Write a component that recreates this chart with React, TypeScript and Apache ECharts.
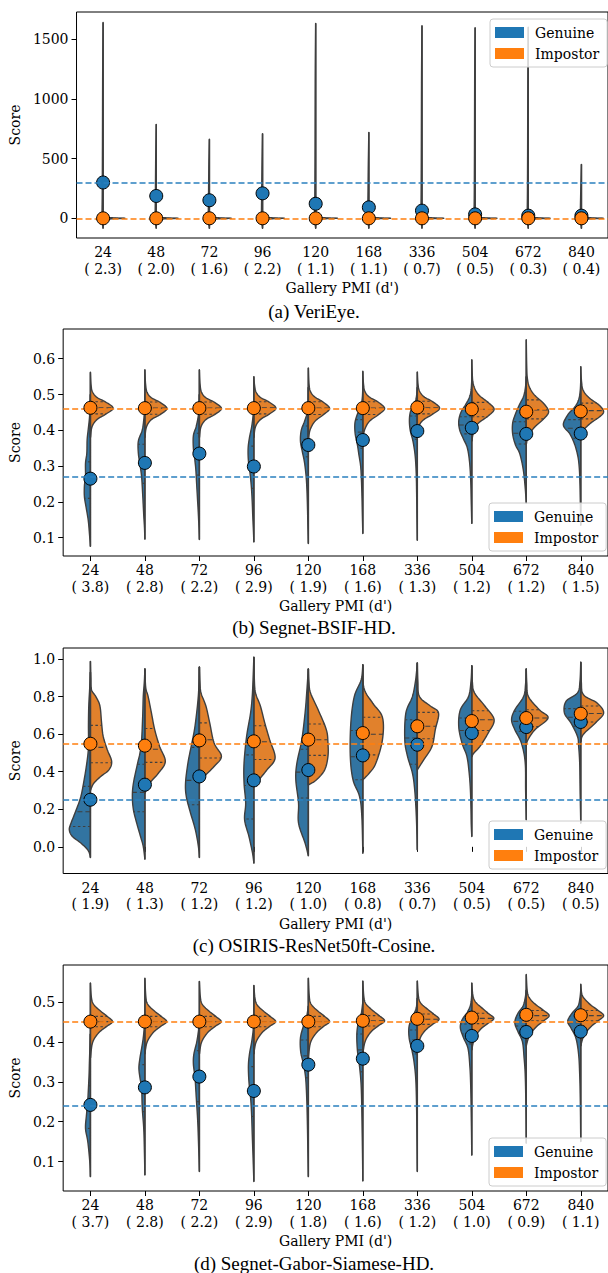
import React, { useEffect, useRef } from 'react';
import * as echarts from 'echarts';

// ---------------- DATA ----------------
const PMI = ['24', '48', '72', '96', '120', '168', '336', '504', '672', '840'];

const DPRIME_A = [2.3, 2.0, 1.6, 2.2, 1.1, 1.1, 0.7, 0.5, 0.3, 0.4];
const DPRIME_B = [3.8, 2.8, 2.2, 2.9, 1.9, 1.6, 1.3, 1.2, 1.2, 1.5];
const DPRIME_C = [1.9, 1.3, 1.2, 1.2, 1.0, 0.8, 0.7, 0.5, 0.5, 0.5];
const DPRIME_D = [3.7, 2.8, 2.2, 2.9, 1.8, 1.6, 1.2, 1.0, 0.9, 1.1];

const YTICKS_A = [0, 500, 1000, 1500];
const YTICKS_B = [0.1, 0.2, 0.3, 0.4, 0.5, 0.6];
const YTICKS_C = [0.0, 0.2, 0.4, 0.6, 0.8, 1.0];
const YTICKS_D = [0.1, 0.2, 0.3, 0.4, 0.5];

const YRANGE_A = [-165, 1728];
const YRANGE_B = [0.049, 0.683];
const YRANGE_C = [-0.142, 1.059];
const YRANGE_D = [0.026, 0.593];

const REF_GEN = [300, 0.265, 0.251, 0.242];
const REF_IMP = [0, 0.463, 0.549, 0.451];

const CAPTIONS = ['(a) VeriEye.', '(b) Segnet-BSIF-HD.', '(c) OSIRIS-ResNet50ft-Cosine.', '(d) Segnet-Gabor-Siamese-HD.'];

const GEN_MEAN_A = [300, 187, 151, 209, 122, 92, 64, 33, 22, 22];
const IMP_MEAN_A = [0, 0, 0, 0, 0, 0, 0, 0, 0, 0];
const GEN_MEAN_B = [0.265, 0.309, 0.335, 0.299, 0.359, 0.373, 0.398, 0.407, 0.39, 0.391];
const IMP_MEAN_B = [0.463, 0.462, 0.462, 0.462, 0.462, 0.462, 0.464, 0.459, 0.452, 0.453];
const GEN_MEAN_C = [0.251, 0.331, 0.375, 0.354, 0.409, 0.487, 0.544, 0.606, 0.638, 0.665];
const IMP_MEAN_C = [0.549, 0.539, 0.567, 0.562, 0.571, 0.606, 0.642, 0.67, 0.686, 0.709];
const GEN_MEAN_D = [0.242, 0.286, 0.313, 0.277, 0.343, 0.358, 0.39, 0.415, 0.425, 0.426];
const IMP_MEAN_D = [0.451, 0.451, 0.451, 0.451, 0.451, 0.453, 0.458, 0.461, 0.468, 0.467];

// violin half profiles: [score, half-width as fraction of category band], bottom -> top
const GEN_VIOLIN_A = [
  [[-84, 0], [-30, 0.014], [40, 0.02], [200, 0.016], [600, 0.012], [1200, 0.008], [1641, 0]],
  [[-84, 0], [-30, 0.014], [40, 0.02], [200, 0.016], [500, 0.01], [787, 0]],
  [[-84, 0], [-30, 0.014], [40, 0.02], [200, 0.016], [450, 0.01], [662, 0]],
  [[-84, 0], [-30, 0.014], [40, 0.02], [200, 0.016], [450, 0.01], [709, 0]],
  [[-84, 0], [-30, 0.014], [40, 0.02], [200, 0.016], [600, 0.012], [1200, 0.008], [1633, 0]],
  [[-84, 0], [-30, 0.014], [40, 0.02], [200, 0.016], [450, 0.01], [720, 0]],
  [[-84, 0], [-30, 0.014], [40, 0.02], [200, 0.016], [600, 0.012], [1200, 0.008], [1613, 0]],
  [[-84, 0], [-30, 0.014], [40, 0.02], [200, 0.016], [600, 0.012], [1200, 0.008], [1596, 0]],
  [[-84, 0], [-30, 0.014], [40, 0.02], [200, 0.016], [600, 0.012], [1200, 0.008], [1600, 0]],
  [[-84, 0], [-30, 0.014], [40, 0.02], [200, 0.014], [452, 0]],
];
const IMP_VIOLIN_A = [
  [[-9, 0], [-3, 0.22], [0, 0.41], [3, 0.22], [8, 0.05], [16, 0]],
  [[-9, 0], [-3, 0.22], [0, 0.41], [3, 0.22], [8, 0.05], [16, 0]],
  [[-9, 0], [-3, 0.22], [0, 0.41], [3, 0.22], [8, 0.05], [16, 0]],
  [[-9, 0], [-3, 0.22], [0, 0.41], [3, 0.22], [8, 0.05], [16, 0]],
  [[-9, 0], [-3, 0.22], [0, 0.41], [3, 0.22], [8, 0.05], [16, 0]],
  [[-9, 0], [-3, 0.22], [0, 0.41], [3, 0.22], [8, 0.05], [16, 0]],
  [[-9, 0], [-3, 0.22], [0, 0.41], [3, 0.22], [8, 0.05], [16, 0]],
  [[-9, 0], [-3, 0.22], [0, 0.41], [3, 0.22], [8, 0.05], [16, 0]],
  [[-9, 0], [-3, 0.22], [0, 0.41], [3, 0.22], [8, 0.05], [16, 0]],
  [[-9, 0], [-3, 0.22], [0, 0.41], [3, 0.22], [8, 0.05], [16, 0]],
];
const GEN_QUART_A = [[], [], [], [], [], [], [], [], [], []];
const IMP_QUART_A = [[0], [0], [0], [0], [0], [0], [0], [0], [0], [0]];

const GEN_VIOLIN_B = [
  [[0.076, 0], [0.112, 0.018], [0.149, 0.04], [0.186, 0.08], [0.215, 0.11], [0.245, 0.11], [0.27, 0.09], [0.308, 0.09], [0.336, 0.066], [0.373, 0.06], [0.4, 0.042], [0.43, 0.02], [0.46, 0.008], [0.5, 0]],
  [[0.096, 0], [0.13, 0.008], [0.16, 0.02], [0.19, 0.03], [0.225, 0.042], [0.27, 0.06], [0.305, 0.09], [0.336, 0.12], [0.37, 0.12], [0.4, 0.05], [0.43, 0.02], [0.46, 0.008], [0.5, 0]],
  [[0.095, 0], [0.13, 0.008], [0.17, 0.02], [0.21, 0.035], [0.25, 0.05], [0.29, 0.065], [0.32, 0.085], [0.35, 0.11], [0.385, 0.11], [0.41, 0.06], [0.44, 0.02], [0.47, 0.006], [0.5, 0]],
  [[0.088, 0], [0.12, 0.008], [0.16, 0.02], [0.2, 0.03], [0.24, 0.045], [0.28, 0.07], [0.315, 0.1], [0.35, 0.105], [0.38, 0.08], [0.41, 0.04], [0.44, 0.015], [0.47, 0.005], [0.5, 0]],
  [[0.084, 0], [0.13, 0.008], [0.18, 0.015], [0.23, 0.025], [0.27, 0.04], [0.31, 0.07], [0.34, 0.11], [0.37, 0.145], [0.4, 0.13], [0.425, 0.07], [0.45, 0.02], [0.48, 0.005], [0.52, 0]],
  [[0.112, 0], [0.16, 0.008], [0.21, 0.015], [0.26, 0.025], [0.3, 0.04], [0.33, 0.07], [0.36, 0.1], [0.39, 0.14], [0.42, 0.145], [0.445, 0.1], [0.465, 0.04], [0.49, 0.01], [0.52, 0]],
  [[0.093, 0], [0.15, 0.006], [0.22, 0.012], [0.28, 0.02], [0.33, 0.04], [0.37, 0.08], [0.4, 0.13], [0.43, 0.145], [0.455, 0.12], [0.475, 0.05], [0.495, 0.015], [0.52, 0]],
  [[0.14, 0], [0.2, 0.01], [0.26, 0.02], [0.31, 0.04], [0.35, 0.08], [0.375, 0.15], [0.4, 0.22], [0.425, 0.24], [0.45, 0.2], [0.47, 0.12], [0.49, 0.05], [0.51, 0.015], [0.54, 0]],
  [[0.196, 0], [0.24, 0.02], [0.29, 0.055], [0.335, 0.12], [0.36, 0.2], [0.39, 0.25], [0.42, 0.25], [0.445, 0.2], [0.47, 0.13], [0.495, 0.05], [0.52, 0.015], [0.55, 0]],
  [[0.135, 0], [0.2, 0.008], [0.25, 0.015], [0.29, 0.025], [0.325, 0.05], [0.36, 0.11], [0.39, 0.2], [0.415, 0.32], [0.445, 0.23], [0.465, 0.11], [0.485, 0.04], [0.51, 0.01], [0.54, 0]],
];
const GEN_QUART_B = [
  [0.21, 0.262, 0.312], [0.252, 0.305, 0.361], [0.275, 0.337, 0.392], [0.238, 0.298, 0.356], [0.326, 0.375, 0.412],
  [0.35, 0.395, 0.43], [0.375, 0.41, 0.44], [0.39, 0.415, 0.438], [0.362, 0.392, 0.424], [0.378, 0.406, 0.43],
];
const IMP_VIOLIN_B = [
  [[0.38, 0], [0.41, 0.03], [0.43, 0.12], [0.445, 0.28], [0.462, 0.417], [0.479, 0.28], [0.492, 0.12], [0.507, 0.04], [0.527, 0.012], [0.562, 0]],
  [[0.38, 0], [0.41, 0.03], [0.43, 0.12], [0.444, 0.28], [0.461, 0.405], [0.478, 0.28], [0.491, 0.12], [0.506, 0.04], [0.53, 0.012], [0.569, 0]],
  [[0.38, 0], [0.41, 0.03], [0.43, 0.12], [0.444, 0.28], [0.461, 0.405], [0.478, 0.28], [0.491, 0.12], [0.506, 0.04], [0.53, 0.012], [0.569, 0]],
  [[0.38, 0], [0.41, 0.03], [0.43, 0.12], [0.445, 0.28], [0.462, 0.405], [0.479, 0.28], [0.492, 0.12], [0.507, 0.04], [0.527, 0.012], [0.55, 0]],
  [[0.37, 0], [0.4, 0.03], [0.425, 0.12], [0.443, 0.27], [0.461, 0.39], [0.479, 0.27], [0.493, 0.12], [0.508, 0.04], [0.53, 0.012], [0.574, 0]],
  [[0.37, 0], [0.4, 0.03], [0.425, 0.12], [0.443, 0.28], [0.461, 0.4], [0.479, 0.28], [0.493, 0.12], [0.508, 0.04], [0.53, 0.012], [0.565, 0]],
  [[0.39, 0], [0.415, 0.04], [0.43, 0.12], [0.445, 0.28], [0.462, 0.41], [0.48, 0.28], [0.494, 0.12], [0.51, 0.04], [0.53, 0.012], [0.563, 0]],
  [[0.37, 0], [0.4, 0.04], [0.42, 0.12], [0.44, 0.3], [0.459, 0.41], [0.478, 0.3], [0.497, 0.14], [0.515, 0.06], [0.535, 0.02], [0.56, 0.008], [0.597, 0]],
  [[0.36, 0], [0.385, 0.04], [0.41, 0.16], [0.432, 0.32], [0.452, 0.41], [0.475, 0.32], [0.497, 0.16], [0.52, 0.06], [0.545, 0.02], [0.58, 0.008], [0.653, 0]],
  [[0.38, 0], [0.4, 0.05], [0.42, 0.18], [0.437, 0.34], [0.452, 0.42], [0.47, 0.34], [0.49, 0.16], [0.51, 0.05], [0.535, 0.015], [0.578, 0]],
];
const IMP_QUART_B = [
  [0.446, 0.463, 0.48], [0.445, 0.462, 0.479], [0.445, 0.462, 0.479], [0.446, 0.463, 0.48], [0.444, 0.462, 0.48],
  [0.444, 0.462, 0.48], [0.446, 0.463, 0.481], [0.438, 0.459, 0.478], [0.432, 0.457, 0.485], [0.432, 0.455, 0.476],
];

const GEN_VIOLIN_C = [
  [[-0.057, 0], [-0.02, 0.04], [0.02, 0.175], [0.055, 0.33], [0.09, 0.387], [0.126, 0.356], [0.197, 0.26], [0.268, 0.175], [0.357, 0.115], [0.446, 0.066], [0.53, 0.036], [0.65, 0.036], [0.75, 0.03], [0.85, 0.012], [0.93, 0]],
  [[-0.066, 0], [0.002, 0.03], [0.055, 0.08], [0.126, 0.15], [0.197, 0.21], [0.268, 0.23], [0.34, 0.21], [0.446, 0.133], [0.5, 0.09], [0.57, 0.06], [0.7, 0.04], [0.8, 0.03], [0.88, 0.01], [0.948, 0]],
  [[-0.057, 0], [0.002, 0.018], [0.09, 0.073], [0.188, 0.17], [0.268, 0.24], [0.34, 0.254], [0.446, 0.21], [0.535, 0.15], [0.624, 0.09], [0.713, 0.05], [0.8, 0.02], [0.88, 0.006], [0.958, 0]],
  [[-0.087, 0], [-0.034, 0.024], [0.055, 0.09], [0.144, 0.17], [0.233, 0.15], [0.34, 0.18], [0.446, 0.18], [0.588, 0.133], [0.713, 0.06], [0.8, 0.03], [0.89, 0.015], [1.01, 0]],
  [[-0.048, 0], [0.02, 0.06], [0.126, 0.18], [0.233, 0.18], [0.357, 0.23], [0.446, 0.21], [0.57, 0.12], [0.713, 0.06], [0.82, 0.03], [0.948, 0]],
  [[-0.034, 0], [0.162, 0.018], [0.268, 0.06], [0.357, 0.18], [0.482, 0.23], [0.66, 0.22], [0.8, 0.157], [0.89, 0.03], [0.97, 0]],
  [[-0.016, 0], [0.162, 0.018], [0.304, 0.048], [0.393, 0.09], [0.482, 0.18], [0.57, 0.23], [0.713, 0.21], [0.8, 0.09], [0.89, 0.03], [0.98, 0]],
  [[0.055, 0], [0.12, 0.01], [0.2, 0.015], [0.3, 0.025], [0.393, 0.048], [0.482, 0.09], [0.553, 0.18], [0.642, 0.24], [0.73, 0.21], [0.8, 0.06], [0.88, 0.015], [0.965, 0]],
  [[0.144, 0], [0.3, 0.012], [0.45, 0.02], [0.553, 0.09], [0.624, 0.21], [0.677, 0.27], [0.73, 0.21], [0.8, 0.05], [0.87, 0.012], [0.948, 0]],
  [[0.126, 0], [0.3, 0.012], [0.45, 0.02], [0.54, 0.04], [0.588, 0.06], [0.66, 0.18], [0.713, 0.3], [0.775, 0.27], [0.82, 0.06], [0.88, 0.015], [0.983, 0]],
];
const GEN_QUART_C = [
  [0.108, 0.187, 0.322], [0.187, 0.29, 0.44], [0.224, 0.354, 0.53], [0.148, 0.327, 0.49], [0.26, 0.398, 0.52],
  [0.357, 0.48, 0.62], [0.44, 0.58, 0.677], [0.544, 0.62, 0.686], [0.615, 0.668, 0.722], [0.642, 0.69, 0.736],
];
const IMP_VIOLIN_C = [
  [[0.3, 0], [0.315, 0.02], [0.34, 0.066], [0.375, 0.19], [0.41, 0.34], [0.455, 0.39], [0.517, 0.31], [0.588, 0.235], [0.66, 0.205], [0.75, 0.175], [0.8, 0.1], [0.837, 0.02], [0.9, 0.008], [0.988, 0]],
  [[0.286, 0], [0.304, 0.03], [0.34, 0.09], [0.393, 0.25], [0.455, 0.375], [0.535, 0.27], [0.624, 0.18], [0.713, 0.12], [0.8, 0.06], [0.85, 0.015], [0.948, 0]],
  [[0.34, 0], [0.35, 0.02], [0.375, 0.09], [0.428, 0.27], [0.482, 0.405], [0.553, 0.27], [0.66, 0.19], [0.75, 0.12], [0.82, 0.03], [0.88, 0.01], [0.958, 0]],
  [[0.33, 0], [0.357, 0.09], [0.41, 0.24], [0.473, 0.39], [0.57, 0.29], [0.66, 0.2], [0.75, 0.12], [0.82, 0.03], [0.9, 0.008], [1.01, 0]],
  [[0.33, 0], [0.357, 0.15], [0.41, 0.3], [0.482, 0.36], [0.553, 0.36], [0.624, 0.33], [0.73, 0.18], [0.82, 0.04], [0.88, 0.01], [0.948, 0]],
  [[0.357, 0], [0.393, 0.12], [0.446, 0.24], [0.57, 0.36], [0.69, 0.36], [0.766, 0.18], [0.846, 0.02], [0.97, 0]],
  [[0.41, 0], [0.428, 0.04], [0.464, 0.12], [0.535, 0.27], [0.624, 0.33], [0.713, 0.39], [0.75, 0.24], [0.8, 0.04], [0.88, 0.01], [0.98, 0]],
  [[0.48, 0], [0.5, 0.04], [0.535, 0.15], [0.606, 0.3], [0.677, 0.41], [0.75, 0.24], [0.82, 0.05], [0.88, 0.01], [0.965, 0]],
  [[0.54, 0], [0.57, 0.03], [0.624, 0.16], [0.686, 0.4], [0.73, 0.24], [0.8, 0.04], [0.87, 0.01], [0.948, 0]],
  [[0.56, 0], [0.6, 0.05], [0.66, 0.27], [0.713, 0.42], [0.766, 0.3], [0.81, 0.05], [0.88, 0.01], [0.983, 0]],
];
const IMP_QUART_C = [
  [0.448, 0.53, 0.647], [0.45, 0.52, 0.63], [0.473, 0.57, 0.66], [0.465, 0.56, 0.645], [0.487, 0.57, 0.654],
  [0.49, 0.6, 0.69], [0.576, 0.642, 0.716], [0.62, 0.677, 0.725], [0.64, 0.686, 0.73], [0.665, 0.71, 0.75],
];

const GEN_VIOLIN_D = [
  [[0.062, 0], [0.1, 0.012], [0.15, 0.048], [0.183, 0.09], [0.217, 0.072], [0.25, 0.05], [0.284, 0.036], [0.32, 0.024], [0.35, 0.018], [0.39, 0.008], [0.42, 0]],
  [[0.066, 0], [0.12, 0.008], [0.18, 0.02], [0.234, 0.048], [0.284, 0.06], [0.31, 0.09], [0.335, 0.11], [0.36, 0.09], [0.384, 0.06], [0.41, 0.03], [0.44, 0.01], [0.47, 0]],
  [[0.075, 0], [0.13, 0.012], [0.2, 0.03], [0.267, 0.06], [0.31, 0.08], [0.345, 0.11], [0.37, 0.1], [0.4, 0.048], [0.43, 0.015], [0.46, 0]],
  [[0.05, 0], [0.1, 0.012], [0.17, 0.03], [0.22, 0.042], [0.26, 0.06], [0.3, 0.09], [0.34, 0.1], [0.37, 0.08], [0.4, 0.04], [0.43, 0.012], [0.46, 0]],
  [[0.062, 0], [0.12, 0.008], [0.2, 0.018], [0.26, 0.03], [0.31, 0.05], [0.345, 0.09], [0.375, 0.14], [0.41, 0.145], [0.44, 0.09], [0.465, 0.03], [0.49, 0]],
  [[0.051, 0], [0.12, 0.006], [0.2, 0.015], [0.27, 0.025], [0.31, 0.04], [0.35, 0.07], [0.38, 0.1], [0.42, 0.11], [0.45, 0.08], [0.47, 0.03], [0.5, 0]],
  [[0.075, 0], [0.15, 0.006], [0.25, 0.015], [0.31, 0.03], [0.35, 0.06], [0.38, 0.1], [0.41, 0.15], [0.44, 0.15], [0.465, 0.08], [0.485, 0.02], [0.51, 0]],
  [[0.116, 0], [0.2, 0.008], [0.29, 0.02], [0.34, 0.036], [0.384, 0.07], [0.41, 0.15], [0.435, 0.21], [0.455, 0.18], [0.475, 0.08], [0.495, 0.02], [0.52, 0]],
  [[0.146, 0], [0.25, 0.008], [0.32, 0.02], [0.36, 0.04], [0.4, 0.07], [0.425, 0.15], [0.448, 0.21], [0.47, 0.16], [0.49, 0.06], [0.51, 0.02], [0.53, 0]],
  [[0.15, 0], [0.25, 0.008], [0.32, 0.02], [0.37, 0.04], [0.41, 0.09], [0.435, 0.18], [0.452, 0.24], [0.472, 0.16], [0.49, 0.05], [0.51, 0.015], [0.53, 0]],
];
const GEN_QUART_D = [
  [0.183, 0.236, 0.29], [0.225, 0.285, 0.343], [0.25, 0.31, 0.378], [0.213, 0.275, 0.338], [0.31, 0.365, 0.405],
  [0.325, 0.38, 0.42], [0.37, 0.405, 0.43], [0.395, 0.42, 0.445], [0.41, 0.44, 0.46], [0.425, 0.448, 0.465],
];
const IMP_VIOLIN_D = [
  [[0.36, 0], [0.393, 0.03], [0.41, 0.08], [0.426, 0.175], [0.439, 0.3], [0.451, 0.405], [0.464, 0.31], [0.477, 0.19], [0.493, 0.066], [0.51, 0.02], [0.548, 0]],
  [[0.37, 0], [0.395, 0.03], [0.41, 0.08], [0.426, 0.17], [0.439, 0.29], [0.451, 0.4], [0.464, 0.3], [0.477, 0.18], [0.493, 0.06], [0.51, 0.02], [0.56, 0]],
  [[0.37, 0], [0.395, 0.03], [0.41, 0.08], [0.426, 0.17], [0.439, 0.29], [0.451, 0.4], [0.464, 0.3], [0.477, 0.18], [0.493, 0.06], [0.51, 0.02], [0.552, 0]],
  [[0.37, 0], [0.395, 0.03], [0.41, 0.08], [0.426, 0.17], [0.439, 0.29], [0.451, 0.4], [0.464, 0.3], [0.477, 0.18], [0.493, 0.06], [0.51, 0.02], [0.542, 0]],
  [[0.36, 0], [0.393, 0.03], [0.41, 0.08], [0.426, 0.17], [0.439, 0.28], [0.451, 0.39], [0.464, 0.3], [0.477, 0.18], [0.493, 0.06], [0.51, 0.02], [0.56, 0]],
  [[0.37, 0], [0.395, 0.03], [0.412, 0.08], [0.428, 0.17], [0.441, 0.29], [0.453, 0.4], [0.466, 0.3], [0.479, 0.18], [0.495, 0.06], [0.512, 0.02], [0.553, 0]],
  [[0.38, 0], [0.4, 0.03], [0.417, 0.08], [0.432, 0.17], [0.445, 0.29], [0.457, 0.4], [0.47, 0.3], [0.483, 0.18], [0.498, 0.06], [0.515, 0.02], [0.553, 0]],
  [[0.38, 0], [0.4, 0.03], [0.417, 0.08], [0.433, 0.17], [0.446, 0.29], [0.459, 0.405], [0.472, 0.3], [0.486, 0.18], [0.5, 0.07], [0.517, 0.02], [0.548, 0]],
  [[0.39, 0], [0.41, 0.04], [0.425, 0.1], [0.44, 0.2], [0.453, 0.32], [0.466, 0.42], [0.479, 0.32], [0.493, 0.18], [0.508, 0.07], [0.525, 0.02], [0.569, 0]],
  [[0.39, 0], [0.41, 0.04], [0.425, 0.1], [0.44, 0.2], [0.453, 0.32], [0.466, 0.42], [0.479, 0.32], [0.493, 0.18], [0.508, 0.07], [0.52, 0.02], [0.545, 0]],
];
const IMP_QUART_D = [
  [0.438, 0.451, 0.464], [0.438, 0.451, 0.464], [0.438, 0.451, 0.464], [0.438, 0.451, 0.464], [0.438, 0.451, 0.464],
  [0.44, 0.453, 0.466], [0.444, 0.457, 0.47], [0.446, 0.459, 0.472], [0.453, 0.466, 0.479], [0.453, 0.466, 0.479],
];

// ---------------- STYLE ----------------
const BLUE = '#1f77b4';
const ORANGE = '#ff7f0e';
const BLUE_FILL = '#3274a1';
const ORANGE_FILL = '#e1812c';
const BLUE_REF = '#2a80bf';
const EDGE = '#3f3f3f';
const FONT = 'DejaVu Serif';

const GRIDS = [
  { left: 76, top: 12, width: 538, height: 226 },
  { left: 62, top: 329, width: 551.5, height: 227 },
  { left: 62, top: 648, width: 551.5, height: 225.5 },
  { left: 62, top: 965, width: 551.5, height: 226 },
];
const LEGEND_POS = [
  { left: 490, top: 19 },
  { left: 489, top: 503 },
  { left: 489, top: 821 },
  { left: 489, top: 1138 },
];
const CAPTION_Y = [311.5, 627, 945, 1263];
const YNAME_GAP = [44, 31, 31, 31];

const PANELS = [
  { d: DPRIME_A, ticks: YTICKS_A, range: YRANGE_A, genMean: GEN_MEAN_A, impMean: IMP_MEAN_A, genV: GEN_VIOLIN_A, impV: IMP_VIOLIN_A, genQ: GEN_QUART_A, impQ: IMP_QUART_A, int: true },
  { d: DPRIME_B, ticks: YTICKS_B, range: YRANGE_B, genMean: GEN_MEAN_B, impMean: IMP_MEAN_B, genV: GEN_VIOLIN_B, impV: IMP_VIOLIN_B, genQ: GEN_QUART_B, impQ: IMP_QUART_B, int: false },
  { d: DPRIME_C, ticks: YTICKS_C, range: YRANGE_C, genMean: GEN_MEAN_C, impMean: IMP_MEAN_C, genV: GEN_VIOLIN_C, impV: IMP_VIOLIN_C, genQ: GEN_QUART_C, impQ: IMP_QUART_C, int: false },
  { d: DPRIME_D, ticks: YTICKS_D, range: YRANGE_D, genMean: GEN_MEAN_D, impMean: IMP_MEAN_D, genV: GEN_VIOLIN_D, impV: IMP_VIOLIN_D, genQ: GEN_QUART_D, impQ: IMP_QUART_D, int: false },
];

// Catmull-Rom rendering of the outline through the read knots (pixel space)
function smoothOutline(pts: number[][], seg = 8): number[][] {
  const out: number[][] = [];
  const n = pts.length;
  for (let i = 0; i < n - 1; i++) {
    const p0 = pts[Math.max(i - 1, 0)];
    const p1 = pts[i];
    const p2 = pts[i + 1];
    const p3 = pts[Math.min(i + 2, n - 1)];
    for (let t = 0; t < seg; t++) {
      const s = t / seg;
      const s2 = s * s;
      const s3 = s2 * s;
      const f = (a: number, b: number, c: number, d: number) =>
        0.5 * (2 * b + (-a + c) * s + (2 * a - 5 * b + 4 * c - d) * s2 + (-a + 3 * b - 3 * c + d) * s3);
      out.push([f(p0[0], p1[0], p2[0], p3[0]), f(p0[1], p1[1], p2[1], p3[1])]);
    }
  }
  out.push(pts[n - 1]);
  return out;
}

function edgeAt(poly: number[][], y: number, cx: number): number {
  let best = cx;
  for (let j = 0; j < poly.length - 1; j++) {
    const a = poly[j];
    const b = poly[j + 1];
    if ((a[1] - y) * (b[1] - y) <= 0 && a[1] !== b[1]) {
      const t = (y - a[1]) / (b[1] - a[1]);
      const x = a[0] + t * (b[0] - a[0]);
      if (Math.abs(x - cx) > Math.abs(best - cx)) best = x;
    }
  }
  return best;
}

function violinSeries(name: string, color: string, fill: string, side: number, profiles: number[][][], quarts: number[][], gi: number) {
  return {
    type: 'custom',
    name,
    xAxisIndex: gi,
    yAxisIndex: gi,
    z: 2,
    clip: false,
    itemStyle: { color },
    encode: { x: 0, y: 1 },
    data: profiles.map((p, i) => [i, p[0][0]]),
    renderItem: (params: any, api: any) => {
      const i = params.dataIndex;
      const prof = profiles[i];
      const cx = api.coord([i, 0])[0];
      const band = api.size([1, 0])[0];
      const raw = prof.map(([v, w]) => [cx + side * w * band, api.coord([i, v])[1]]);
      const sm = smoothOutline(raw).map(([x, y]) => [side > 0 ? Math.max(x, cx) : Math.min(x, cx), y]);
      const yBot = raw[0][1];
      const yTop = raw[raw.length - 1][1];
      const children: any[] = [
        { type: 'polygon', shape: { points: sm }, style: { fill, stroke: EDGE, lineWidth: 1.4, lineJoin: 'round' } },
        { type: 'line', shape: { x1: cx, y1: yBot, x2: cx, y2: yTop }, style: { stroke: EDGE, lineWidth: 1.5 } },
      ];
      const qs = quarts[i] || [];
      qs.forEach((q, k) => {
        const yq = api.coord([i, q])[1];
        const xq = edgeAt(sm, yq, cx);
        const isMed = qs.length === 3 ? k === 1 : true;
        children.push({
          type: 'line',
          shape: { x1: cx, y1: yq, x2: xq, y2: yq },
          style: { stroke: EDGE, lineWidth: 1.1, lineDash: isMed ? [5, 3] : [2.5, 2.5] },
        });
      });
      return { type: 'group', children };
    },
  };
}

function buildOption() {
  const grid: any[] = [];
  const xAxis: any[] = [];
  const yAxis: any[] = [];
  const series: any[] = [];
  const legend: any[] = [];
  const graphic: any[] = [];

  PANELS.forEach((p, gi) => {
    grid.push({ ...GRIDS[gi], show: true, borderColor: '#000', borderWidth: 1, backgroundColor: 'transparent' });
    xAxis.push({
      type: 'category',
      gridIndex: gi,
      data: PMI,
      boundaryGap: true,
      name: "Gallery PMI (d')",
      nameLocation: 'middle',
      nameGap: 43,
      nameTextStyle: { fontFamily: FONT, fontSize: 14, color: '#000' },
      axisLine: { show: false },
      axisTick: { show: true, alignWithLabel: true, length: 5, lineStyle: { color: '#000', width: 1 } },
      axisLabel: {
        interval: 0,
        margin: 6,
        fontFamily: FONT,
        fontSize: 14,
        lineHeight: 16.5,
        color: '#000',
        formatter: (v: string, idx: number) => `${v}\n( ${p.d[idx].toFixed(1)})`,
      },
      splitLine: { show: false },
    });
    yAxis.push({
      type: 'value',
      gridIndex: gi,
      min: p.range[0],
      max: p.range[1],
      name: 'Score',
      nameLocation: 'middle',
      nameGap: YNAME_GAP[gi],
      nameTextStyle: { fontFamily: FONT, fontSize: 14, color: '#000' },
      axisLine: { show: false },
      axisTick: { show: true, length: 5, customValues: p.ticks, lineStyle: { color: '#000', width: 1 } },
      axisLabel: {
        margin: 8,
        fontFamily: FONT,
        fontSize: 14,
        color: '#000',
        customValues: p.ticks,
        formatter: (v: number) => (p.int ? String(Math.round(v)) : v.toFixed(1)),
      },
      splitLine: { show: false },
    });
    series.push(violinSeries('Genuine', BLUE, BLUE_FILL, -1, p.genV, p.genQ, gi));
    series.push(violinSeries('Impostor', ORANGE, ORANGE_FILL, 1, p.impV, p.impQ, gi));
    series.push({
      type: 'line',
      name: 'ref',
      xAxisIndex: gi,
      yAxisIndex: gi,
      data: [],
      z: 3,
      silent: true,
      markLine: {
        silent: true,
        symbol: ['none', 'none'],
        label: { show: false },
        emphasis: { disabled: true },
        data: [
          { yAxis: REF_GEN[gi], lineStyle: { color: BLUE_REF, type: [6, 3], width: 1.5 } },
          { yAxis: REF_IMP[gi], lineStyle: { color: ORANGE, type: [6, 3], width: 1.5 } },
        ],
      },
    });
    series.push({
      type: 'scatter',
      name: 'Genuine mean',
      xAxisIndex: gi,
      yAxisIndex: gi,
      z: 4,
      symbolSize: 13,
      itemStyle: { color: BLUE, borderColor: '#000', borderWidth: 1, opacity: 1 },
      data: p.genMean.map((v, i) => [i, v]),
    });
    series.push({
      type: 'scatter',
      name: 'Impostor mean',
      xAxisIndex: gi,
      yAxisIndex: gi,
      z: 5,
      symbolSize: 13,
      itemStyle: { color: ORANGE, borderColor: '#000', borderWidth: 1, opacity: 1 },
      data: p.impMean.map((v, i) => [i, v]),
    });
    legend.push({
      ...LEGEND_POS[gi],
      orient: 'vertical',
      data: ['Genuine', 'Impostor'],
      selectedMode: false,
      icon: 'rect',
      itemWidth: 29,
      itemHeight: 11,
      itemGap: 4,
      padding: [5, 8, 5, 5],
      backgroundColor: 'rgba(255,255,255,0.8)',
      borderColor: '#cccccc',
      borderWidth: 1,
      borderRadius: 3,
      z: 10,
      textStyle: { fontFamily: FONT, fontSize: 14, color: '#000', lineHeight: 17, padding: [0, 0, 0, 6] },
    });
    graphic.push({
      type: 'text',
      x: 314,
      y: CAPTION_Y[gi],
      style: {
        text: CAPTIONS[gi],
        fontFamily: 'Liberation Serif',
        fontSize: 19,
        fill: '#000',
        textAlign: 'center',
        textVerticalAlign: 'middle',
      },
    });
  });

  return { animation: false, grid, xAxis, yAxis, series, legend, graphic };
}

export default function App() {
  const ref = useRef<HTMLDivElement>(null);
  useEffect(() => {
    if (!ref.current) return;
    const chart = echarts.init(ref.current, null, { renderer: 'svg' });
    chart.setOption(buildOption() as any);
    return () => chart.dispose();
  }, []);
  return <div ref={ref} style={{ position: 'absolute', left: 0, top: 0, width: 608, height: 1273, background: '#fff' }} />;
}
